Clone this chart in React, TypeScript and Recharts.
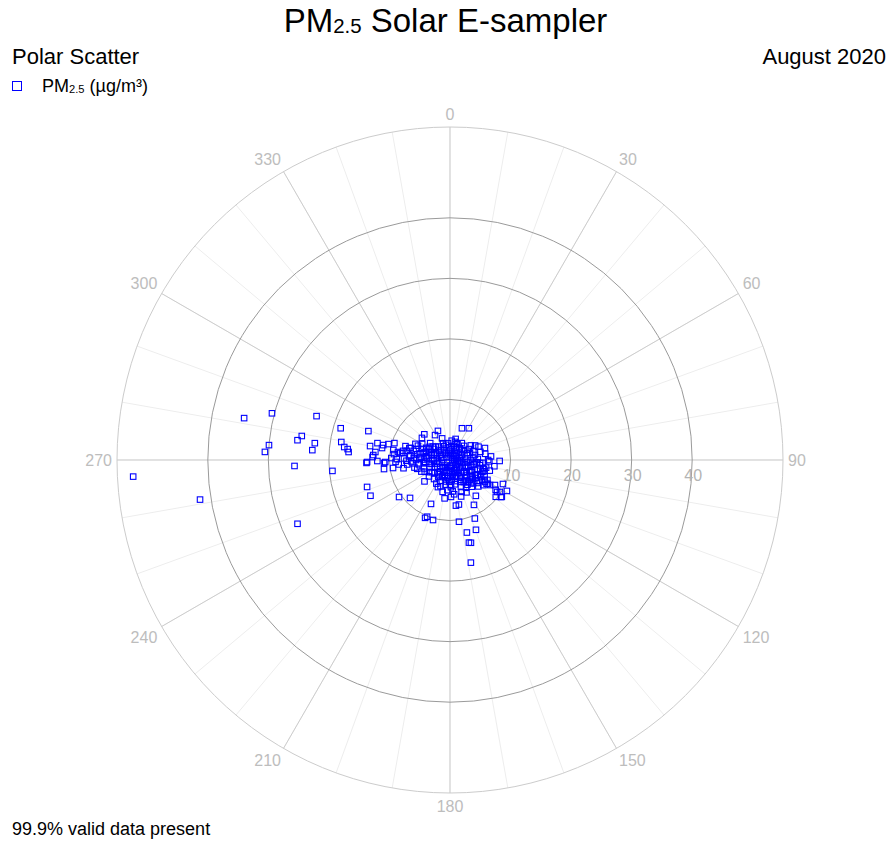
import React from 'react';
import { RadarChart, Radar, PolarGrid, PolarAngleAxis, PolarRadiusAxis } from 'recharts';

// Wind direction (degrees, clockwise from north) and PM2.5 concentration (µg/m³)
const outerDir = [
  267, 261, 281.5, 284.7, 288.2, 279.2, 277.4, 277.1, 274.7, 272.5, 274.1, 267.8, 247.3, 264.7,
  286.2, 279.4, 277.0, 276.1, 274.5, 289.5, 268.0, 268.6, 252.0, 245.8, 234, 226.5, 203.4, 202,
  195.8, 204, 178.5, 172.6, 168.7, 151.9, 171.7, 157, 166.9, 159.6, 167.1, 165.8, 168.5, 20.6,
  30.7, 337.5, 315, 308.2, 329, 71.1, 91.1, 114.4, 118.5, 123.1, 126, 128.8, 122, 144.2, 119.1,
  124.2, 122.6, 125.4, 122.2, 122.3, 203.3, 140.8, 283.1, 282.6, 284.5, 286.9, 279.9, 280, 276.1,
  273.7, 272.2, 269.2, 268.2, 262.2, 262, 267.4, 271.9, 280, 278.7, 278.3, 287.3, 286.3, 310.4,
  337.6, 353.3, 15.5, 22.4, 78.7, 67.6, 103.6, 95.7, 236.3, 205.2, 186.3, 163.6, 127.7, 118.2,
];
const outerPm = [
  52.4, 41.8, 34.7, 30.4, 23.2, 24.8, 25.4, 22.5, 30.0, 30.6, 22.8, 25.7, 27.3, 19.5,
  18.8, 18.2, 17.6, 17.0, 16.8, 14.3, 13.8, 13.7, 14.4, 14.4, 10.4, 9.1, 7.9, 10.1,
  10.3, 4.9, 6.1, 7.6, 7.5, 8.4, 10.3, 10.5, 12.3, 12.3, 14.0, 14.1, 17.3, 5.6,
  6.1, 5.2, 6.0, 5.9, 4.8, 6.1, 8.2, 9.6, 10.7, 9.0, 10.4, 9.7, 7.8, 7.3, 8.5,
  9.4, 9.8, 10.5, 6.8, 7.4, 10.4, 5.7, 12.3, 11.3, 10.5, 9.6, 13.4, 11.4, 12.4,
  12.7, 12.8, 12.0, 10.7, 11.0, 9.5, 10.9, 9.7, 9.5, 8.7, 8.0, 7.7, 7.0, 4.3,
  3.0, 2.8, 3.1, 3.0, 4.2, 3.0, 5.6, 5.0, 3.6, 3.1, 3.0, 2.9, 4.6, 5.2,
];

const clusterDir = [
  350, 355, 5, 10, 15, 345, 0, 20, 330, 25,
  35, 40, 45, 50, 55, 60, 65, 70, 75, 80, 40, 60,
  85, 88, 90, 92, 95, 98, 100, 102, 105, 108, 85, 95, 100, 105,
  110, 112, 115, 115, 118, 120, 120, 122, 125, 125, 128, 130, 130, 132, 135, 138, 140, 112, 118, 127,
  142, 145, 148, 150, 152, 155, 158, 160, 162, 165, 168, 170, 172, 175, 178, 150, 160,
  180, 182, 185, 188, 190, 195, 198, 200, 205, 210, 215, 218, 185, 200,
  222, 226, 230, 235, 240, 244, 248, 250, 232,
  252, 255, 258, 260, 262, 264, 266, 268, 270, 270, 272, 274, 275, 276, 278, 278, 280, 282, 282, 284,
  286, 288, 288, 290, 265, 268, 271, 276, 262, 285,
  292, 295, 298, 300, 305, 310, 315, 320, 325, 300, 295,
  45, 135, 225, 315, 90, 180, 270, 100, 110, 125, 140, 165, 200, 250, 285, 75, 30, 115, 130, 145, 95,
  60, 65, 70, 80, 85, 90, 95, 100, 105, 110, 115, 120, 125, 130, 135, 140, 145, 150, 155, 160,
  170, 175, 180, 190, 195, 205, 210, 215, 220, 225, 230, 240, 245, 255, 258, 260, 263, 265, 267, 269,
  271, 273, 274, 277, 279, 281, 283, 287, 289, 291, 294, 297, 303, 308, 313, 318, 335, 340, 5, 15,
  25, 35, 50, 55, 75, 85, 92, 98, 108, 118, 123, 128, 133, 138, 143, 153, 163, 173, 188, 193,
];
const clusterPm = [
  1.2, 2.1, 0.8, 1.8, 2.4, 2.6, 1.5, 1.1, 1.9, 2.9,
  1.4, 2.5, 3.3, 1.9, 2.8, 3.6, 2.2, 4.1, 3.0, 1.6, 0.9, 1.2,
  2.5, 4.6, 3.4, 1.8, 5.4, 2.9, 4.0, 6.1, 3.5, 4.8, 0.7, 1.3, 2.2, 5.8,
  2.7, 4.4, 5.5, 6.3, 3.8, 4.9, 6.6, 2.4, 5.2, 3.3, 4.3, 5.9, 2.0, 3.7, 4.6, 2.8, 3.9, 1.5, 7.0, 6.9,
  1.6, 3.2, 4.3, 2.5, 3.7, 1.9, 4.8, 3.0, 2.2, 3.6, 4.1, 1.4, 2.8, 3.3, 4.5, 5.3, 5.6,
  2.0, 3.5, 1.1, 2.7, 4.2, 3.1, 1.8, 2.6, 3.8, 2.2, 1.5, 3.0, 5.0, 4.6,
  2.5, 1.7, 3.3, 2.0, 4.0, 2.8, 5.1, 3.6, 4.4,
  4.5, 2.3, 6.0, 3.4, 5.2, 7.1, 4.1, 6.4, 2.9, 5.6, 7.6, 3.8, 6.8, 4.9, 2.2, 8.3, 5.5, 3.6, 7.3, 6.2,
  4.5, 2.8, 5.9, 3.7, 8.5, 9.0, 8.8, 9.3, 1.8, 1.5,
  4.9, 2.6, 3.9, 1.8, 3.2, 2.4, 1.7, 2.9, 1.3, 5.3, 6.3,
  0.5, 0.6, 0.7, 0.8, 1.0, 0.9, 1.1, 1.6, 3.2, 1.2, 2.3, 1.0, 1.3, 1.4, 3.1, 1.9, 2.0, 4.0, 4.9, 5.0, 3.7,
  4.8, 5.2, 3.5, 5.9, 3.9, 6.3, 4.4, 5.0, 6.8, 5.7, 3.0, 4.1, 6.0, 3.0, 5.4, 4.7, 2.0, 3.4, 4.0, 1.8,
  2.4, 5.2, 4.1, 3.6, 2.2, 2.9, 4.5, 3.4, 4.1, 2.9, 5.5, 2.4, 4.6, 5.6, 3.1, 7.8, 4.4, 6.2, 2.6, 7.2,
  4.3, 6.0, 5.1, 6.6, 4.0, 7.9, 5.0, 6.8, 4.2, 3.3, 5.8, 4.4, 4.0, 3.6, 3.2, 2.2, 2.5, 3.8, 3.2, 3.6,
  2.3, 3.4, 2.6, 4.2, 5.2, 6.8, 6.5, 7.4, 6.0, 5.8, 7.2, 5.6, 6.4, 5.2, 4.4, 6.0, 6.3, 5.7, 6.4, 5.4,
];

const majorAngleTicks = [0, 30, 60, 90, 120, 150, 180, 210, 240, 270, 300, 330];
const minorAngleTicks = [
  0, 10, 20, 30, 40, 50, 60, 70, 80, 90, 100, 110, 120, 130, 140, 150, 160, 170,
  180, 190, 200, 210, 220, 230, 240, 250, 260, 270, 280, 290, 300, 310, 320, 330, 340, 350,
];
const radiusTicks = [10, 20, 30, 40];
const radiusMax = 54.8;

const data = [
  ...outerDir.map((d, i) => ({ dir: d, pm: outerPm[i] })),
  ...clusterDir.map((d, i) => ({ dir: d, pm: clusterPm[i] })),
];

const FONT = '"Liberation Sans", Arial, Helvetica, sans-serif';

const AngleTick = (props: any) => {
  const { x, y, payload } = props;
  const v = Number(payload.value);
  const rad = (v * Math.PI) / 180;
  const s = Math.sin(rad);
  const c = Math.cos(rad);
  const label = String(v);
  const w = label.length * 8.9;
  const h = 16;
  const dx = Math.abs(s) > 0.2 ? (Math.sign(s) * w) / 2 : 0;
  const dy = Math.abs(c) > 0.2 ? (-Math.sign(c) * h) / 2 : 0;
  return (
    <text
      x={x + dx}
      y={y + dy}
      textAnchor="middle"
      dominantBaseline="central"
      fill="#bdbdbd"
      fontSize={16}
      fontFamily={FONT}
    >
      {label}
    </text>
  );
};

const RadiusTick = (props: any) => {
  const { x, y, payload } = props;
  return (
    <text
      x={x + 1}
      y={y + 15}
      textAnchor="middle"
      dominantBaseline="central"
      fill="#b4b4b4"
      fontSize={16}
      fontFamily={FONT}
    >
      {payload.value}
    </text>
  );
};

const SquareDot = (props: any) => {
  const { cx, cy, index } = props;
  if (cx == null || cy == null) return null;
  return (
    <rect
      key={`sq-${index}`}
      x={cx - 2.75}
      y={cy - 2.75}
      width={5.5}
      height={5.5}
      fill="none"
      stroke="#0000ff"
      strokeWidth={1.1}
    />
  );
};

const Sub = ({ children }: { children: React.ReactNode }) => (
  <span style={{ fontSize: '0.62em', verticalAlign: '-0.05em' }}>{children}</span>
);

export default function App() {
  return (
    <div
      style={{
        position: 'absolute',
        left: 0,
        top: 0,
        width: 891,
        height: 842,
        background: '#ffffff',
        fontFamily: FONT,
        color: '#000',
        overflow: 'hidden',
      }}
    >
      <div style={{ position: 'absolute', left: 0, top: 0 }}>
        <RadarChart
          width={891}
          height={842}
          data={data}
          cx={450}
          cy={460}
          outerRadius={333}
          startAngle={90}
          endAngle={-270}
          margin={{ top: 0, right: 0, bottom: 0, left: 0 }}
        >
          <PolarAngleAxis
            angleAxisId="minor"
            dataKey="dir"
            type="number"
            domain={[0, 360]}
            ticks={minorAngleTicks}
            tick={false}
            tickLine={false}
            axisLine={false}
          />
          <PolarAngleAxis
            dataKey="dir"
            type="number"
            domain={[0, 360]}
            ticks={majorAngleTicks}
            tick={AngleTick}
            tickSize={5}
            tickLine={false}
            axisLine={{ stroke: '#cccccc', strokeWidth: 1 }}
            axisLineType="circle"
          />
          <PolarRadiusAxis
            type="number"
            angle={0}
            domain={[0, radiusMax]}
            ticks={radiusTicks}
            tick={RadiusTick}
            tickLine={false}
            axisLine={false}
            allowDataOverflow
          />
          <PolarGrid
            angleAxisId="minor"
            gridType="circle"
            polarRadius={[]}
            stroke="#ededed"
            strokeWidth={1}
          />
          <PolarGrid
            gridType="circle"
            polarRadius={[]}
            stroke="#cdcdcd"
            strokeWidth={1}
          />
          <PolarGrid
            gridType="circle"
            radialLines={false}
            stroke="#9a9a9a"
            strokeWidth={1}
          />
          <Radar
            dataKey="pm"
            stroke="none"
            fill="none"
            fillOpacity={0}
            dot={SquareDot}
            activeDot={false}
            isAnimationActive={false}
          />
        </RadarChart>
      </div>

      <div
        style={{
          position: 'absolute',
          left: 0,
          top: 4,
          width: 891,
          textAlign: 'center',
          fontSize: 33,
          lineHeight: '33px',
          whiteSpace: 'nowrap',
        }}
      >
        PM<Sub>2.5</Sub> Solar E-sampler
      </div>
      <div style={{ position: 'absolute', left: 12, top: 46, fontSize: 22, lineHeight: '22px', whiteSpace: 'nowrap' }}>
        Polar Scatter
      </div>
      <div style={{ position: 'absolute', right: 5, top: 46, fontSize: 22, lineHeight: '22px', whiteSpace: 'nowrap' }}>
        August 2020
      </div>
      <div
        style={{
          position: 'absolute',
          left: 12,
          top: 81,
          width: 10,
          height: 10,
          border: '1px solid #0000ff',
          boxSizing: 'border-box',
        }}
      />
      <div style={{ position: 'absolute', left: 42, top: 77, fontSize: 18, lineHeight: '18px', whiteSpace: 'nowrap' }}>
        PM<Sub>2.5</Sub> (µg/m³)
      </div>
      <div style={{ position: 'absolute', left: 12, top: 820, fontSize: 18, lineHeight: '18px', whiteSpace: 'nowrap' }}>
        99.9% valid data present
      </div>
    </div>
  );
}
